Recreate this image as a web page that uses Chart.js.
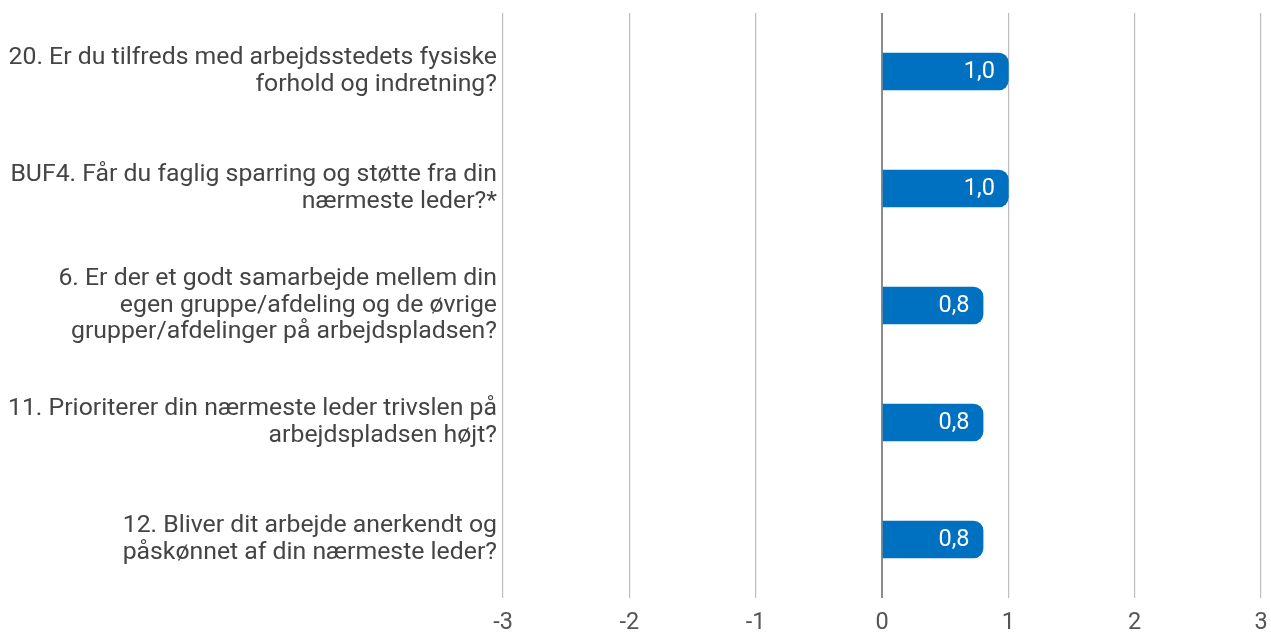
<!DOCTYPE html>
<html><head><meta charset="utf-8">
<script src="https://cdn.jsdelivr.net/npm/chart.js@4"></script>
<style>html,body{margin:0;padding:0;background:#fff}#wrap{width:1271px;height:633px}</style>
</head><body><div id="wrap"><canvas id="c"></canvas></div>
<script>
const categories = [
  ["20. Er du tilfreds med arbejdsstedets fysiske", "forhold og indretning?"],
  ["BUF4. Får du faglig sparring og støtte fra din", "nærmeste leder?*"],
  ["6. Er der et godt samarbejde mellem din", "egen gruppe/afdeling og de øvrige", "grupper/afdelinger på arbejdspladsen?"],
  ["11. Prioriterer din nærmeste leder trivslen på", "arbejdspladsen højt?"],
  ["12. Bliver dit arbejde anerkendt og", "påskønnet af din nærmeste leder?"]
];
const values = [1.0, 1.0, 0.8, 0.8, 0.8];
const xTicks = [-3, -2, -1, 0, 1, 2, 3];

const valueLabels = {
  id: 'valueLabels',
  afterDatasetsDraw(chart) {
    const ctx = chart.ctx;
    const meta = chart.getDatasetMeta(0);
    ctx.save();
    ctx.font = '23.5px Roboto';
    ctx.fillStyle = '#ffffff';
    ctx.textAlign = 'right';
    ctx.textBaseline = 'middle';
    meta.data.forEach((bar, i) => {
      const txt = values[i].toFixed(1).replace('.', ',');
      ctx.fillText(txt, bar.x - 13.5, bar.y + 1);
    });
    ctx.restore();
  }
};

new Chart(document.getElementById('c'), {
  type: 'bar',
  data: {
    labels: categories,
    datasets: [{
      data: values,
      backgroundColor: '#0070c0',
      barThickness: 37,
      borderRadius: {topLeft: 0, bottomLeft: 0, topRight: 10, bottomRight: 10},
      borderSkipped: 'start'
    }]
  },
  options: {
    indexAxis: 'y',
    responsive: true,
    maintainAspectRatio: false,
    animation: false,
    layout: {padding: {top: 13, right: 10, bottom: 0, left: 0}},
    plugins: {legend: {display: false}, tooltip: {enabled: false}},
    scales: {
      x: {
        min: -3, max: 3,
        afterBuildTicks(axis) { axis.ticks = xTicks.map(v => ({value: v})); },
        afterFit(axis) { axis.height = 35; axis.paddingLeft = 0; axis.paddingRight = 0; },
        grid: {
          color: ctx => ctx.tick && ctx.tick.value === 0 ? '#8c8c8c' : '#bdbdbd',
          lineWidth: ctx => ctx.tick && ctx.tick.value === 0 ? 2 : 1.2,
          drawTicks: false
        },
        border: {display: false},
        ticks: {font: {family: 'Roboto', size: 23.5}, color: '#555555', padding: 11}
      },
      y: {
        grid: {display: false, drawTicks: false},
        border: {display: false},
        afterFit(axis) { axis.width = 503; axis.paddingTop = 0; axis.paddingBottom = 0; },
        ticks: {font: {family: 'Roboto', size: 24.8, lineHeight: 1.075}, color: '#444444', padding: 6}
      }
    }
  },
  plugins: [valueLabels]
});
</script></body></html>
